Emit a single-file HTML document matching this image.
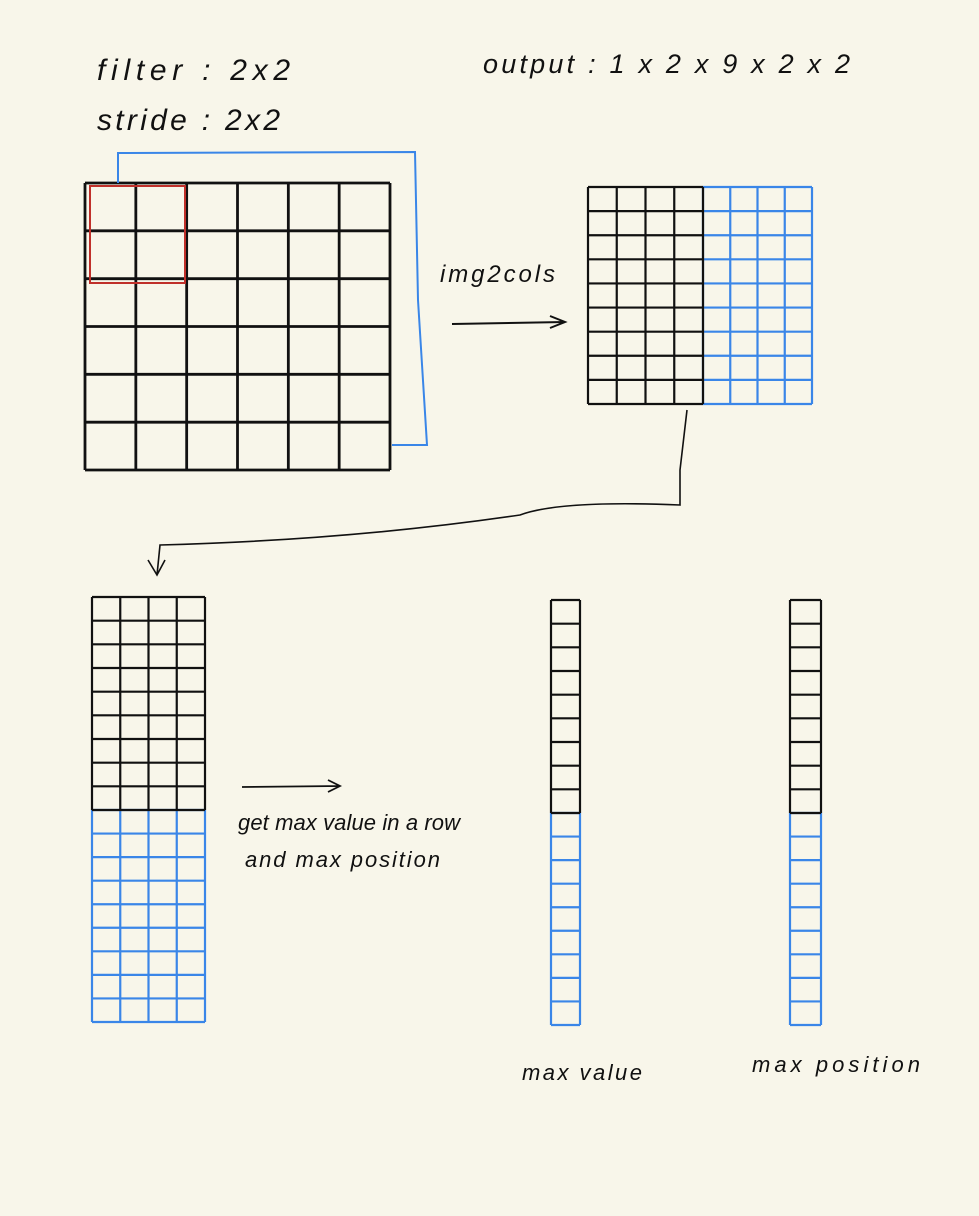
<!DOCTYPE html>
<html><head><meta charset="utf-8"><style>
html,body{margin:0;padding:0;background:#f8f6ea;}
svg{display:block;}
text{font-family:"Liberation Sans",sans-serif;font-style:italic;fill:#111;}
</style></head><body>
<svg id="s" width="979" height="1216" viewBox="0 0 979 1216">
<rect width="979" height="1216" fill="#f8f6ea"/>
<text x="97" y="80" font-size="30" textLength="193" lengthAdjust="spacing">filter : 2x2</text>
<text x="97" y="130" font-size="30" textLength="183" lengthAdjust="spacing">stride : 2x2</text>
<text x="483" y="73" font-size="27" textLength="367" lengthAdjust="spacing">output : 1 x 2 x 9 x 2 x 2</text>
<polyline points="118,183 118,153 415,152 418,300 427,445 392,445" fill="none" stroke="#3a86e8" stroke-width="2"/>
<text x="440" y="282" font-size="24" textLength="115" lengthAdjust="spacing">img2cols</text>
<path d="M452,324 L565,322 M550,316 L565,322 L550,328" fill="none" stroke="#111" stroke-width="2"/>
<path d="M687,410 L680,470 L680,505 Q560,500 520,515 Q350,540 160,545 L157,575 M148,560 L157,575 L165,560" fill="none" stroke="#111" stroke-width="1.6"/>
<path d="M242,787 L340,786 M328,780 L340,786 L328,792" fill="none" stroke="#111" stroke-width="1.8"/>
<text x="238" y="830" font-size="22" textLength="222" lengthAdjust="spacing">get max value in a row</text>
<text x="245" y="867" font-size="22" textLength="195" lengthAdjust="spacing">and max position</text>
<text x="522" y="1080" font-size="22" textLength="120" lengthAdjust="spacing">max value</text>
<text x="752" y="1072" font-size="22" textLength="168" lengthAdjust="spacing">max position</text>
</svg>
<script>
const gridNames = ['input-grid','cols-black','cols-blue','col-matrix-black','col-matrix-blue','max-value-black','max-value-blue','max-pos-black','max-pos-blue'];
const gridCols = [6,4,4,4,4,1,1,1,1];
const gridRows = [6,9,9,9,9,9,9,9,9];
const gridBox = [[85,183,305,287],[588,187,115,217],[703,187,109,217],[92,597,113,213],[92,810,113,212],[551,600,29,213],[551,813,29,212],[790,600,31,213],[790,813,31,212]];
const gridColor = ['#111','#111','#3a86e8','#111','#3a86e8','#111','#3a86e8','#111','#3a86e8'];
const ns='http://www.w3.org/2000/svg', s=document.getElementById('s');
gridNames.forEach((n,i)=>{
  const [x,y,w,h]=gridBox[i], g=document.createElementNS(ns,'g');
  
  
  g.setAttribute('stroke', gridColor[i]); g.setAttribute('stroke-width', i===0?2.8:2.2); g.setAttribute('fill','none');
  let d='';
  for(let c=0;c<=gridCols[i];c++){const xx=x+w*c/gridCols[i];d+=`M${xx},${y}L${xx},${y+h}`;}
  for(let r=0;r<=gridRows[i];r++){const yy=y+h*r/gridRows[i];d+=`M${x},${yy}L${x+w},${yy}`;}
  const p=document.createElementNS(ns,'path');p.setAttribute('d',d);g.appendChild(p);
  s.insertBefore(g, s.children[4]);
});
const red=document.createElementNS(ns,'rect');


red.setAttribute('x',90);red.setAttribute('y',186);red.setAttribute('width',95);red.setAttribute('height',97);
red.setAttribute('fill','none');red.setAttribute('stroke','#c0302a');red.setAttribute('stroke-width',2);
s.appendChild(red);
</script>
</body></html>
